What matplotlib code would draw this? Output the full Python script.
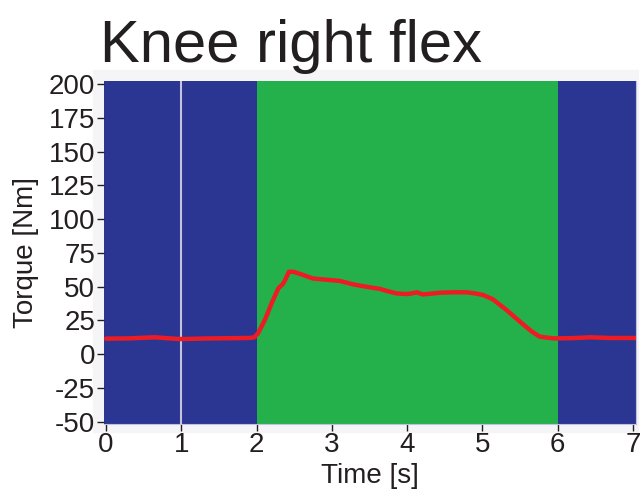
import matplotlib.pyplot as plt
from matplotlib.patches import Rectangle

plt.rcParams['font.family'] = ['Liberation Sans', 'DejaVu Sans']
plt.rcParams['axes.unicode_minus'] = False

# torque trace
time_s = [0, 0.3, 0.65, 0.9, 1.0, 1.3, 1.6, 1.9, 1.97, 2.02, 2.11, 2.20, 2.29,
          2.35, 2.38, 2.43, 2.49, 2.6, 2.75, 2.95, 3.11, 3.28, 3.45, 3.64,
          3.75, 3.86, 3.99, 4.06, 4.13, 4.21, 4.44, 4.6, 4.79, 4.9, 5.01,
          5.14, 5.32, 5.50, 5.65, 5.76, 5.94, 6.2, 6.43, 6.7, 7.04]
torque = [11.5, 11.7, 12.5, 11.5, 11.2, 11.6, 11.8, 12.0, 12.5, 15.5, 25.3,
          37.7, 48.8, 52, 55, 61, 61, 59, 56, 55, 54.2, 51.7, 50, 48.3, 46.5,
          45, 44.5, 45, 45.8, 44.2, 45.5, 45.8, 45.8, 45, 43.8, 40.6, 32.7,
          24, 17, 13, 11.7, 11.9, 12.5, 12, 12]

active_phase = (2, 6)
marker_time = 1
x_ticks = [0, 1, 2, 3, 4, 5, 6, 7]
y_ticks = [-50, -25, 0, 25, 50, 75, 100, 125, 150, 175, 200]

W, H = 642, 490
fig = plt.figure(figsize=(W / 100, H / 100), dpi=100)

# light grey panel behind the axes
fig.patches.append(Rectangle((93 / W, 1 - 432 / H), (638 - 93) / W, (432 - 70) / H,
                             transform=fig.transFigure, color='#f5f5f7', zorder=-1))

ax = fig.add_axes([103.5 / W, 1 - 423.5 / H, (636 - 103.5) / W, (423.5 - 81) / H])
ax.set_zorder(2)
ax.set_facecolor('#2b3592')
ax.axvspan(active_phase[0], active_phase[1], color='#24b14c', lw=0)
ax.axvline(marker_time, color='#c4c4dc', lw=1.5)
ax.plot(time_s, torque, color='#ed1c24', lw=3.2, solid_capstyle='round')

ax.set_xlim(-0.033, 7.04)
ax.set_ylim(-51.3, 202.2)
ax.set_xticks(x_ticks)
ax.set_yticks(y_ticks)
ax.tick_params(axis='both', labelsize=20, colors='#231f20', length=5, width=1, pad=1)

for side in ['left', 'top']:
    ax.spines[side].set_visible(False)
for side in ['right', 'bottom']:
    ax.spines[side].set_color('#c0c0e0')
    ax.spines[side].set_linewidth(0.8)

ax.set_xlabel('Time [s]', fontsize=20, color='#231f20', labelpad=4)
ax.set_ylabel('Torque [Nm]', fontsize=20, color='#231f20', labelpad=7)

fig.text(100 / W, 1 - 62 / H, 'Knee right flex', fontsize=43, color='#231f20',
         ha='left', va='baseline')

fig.savefig('out.png', dpi=100)
